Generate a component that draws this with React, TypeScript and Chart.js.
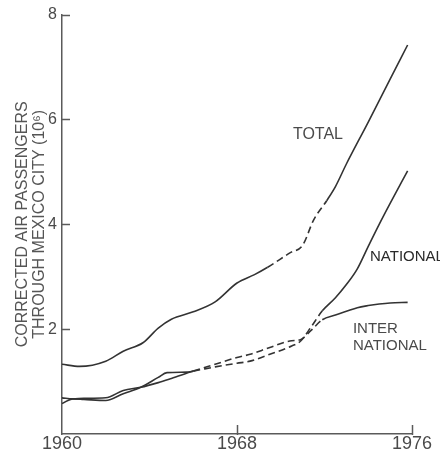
import { useEffect, useRef } from 'react';
import { Chart, registerables } from 'chart.js';

Chart.register(...registerables);

// Corrected air passengers through Mexico City, millions
const totalYears = [1960, 1960.8, 1962, 1962.8, 1963.7, 1964.4, 1965, 1966, 1967, 1968, 1968.8, 1969.4, 1970.4, 1971, 1971.5, 1972.1, 1972.5, 1973, 1974, 1975, 1975.8];
const totalValues = [1.33, 1.29, 1.39, 1.58, 1.74, 2.02, 2.19, 2.33, 2.52, 2.88, 3.04, 3.18, 3.45, 3.6, 4.08, 4.45, 4.72, 5.15, 5.95, 6.77, 7.42];

const nationalYears = [1960, 1960.5, 1961, 1962, 1962.8, 1963.6, 1964.4, 1964.8, 1965.7, 1966, 1967, 1968, 1968.6, 1969.5, 1970.5, 1970.9, 1971.4, 1971.9, 1972.5, 1973, 1973.5, 1974, 1974.5, 1975, 1975.8];
const nationalValues = [0.58, 0.67, 0.66, 0.64, 0.77, 0.89, 1.08, 1.17, 1.18, 1.2, 1.28, 1.35, 1.39, 1.52, 1.68, 1.77, 2.05, 2.35, 2.6, 2.85, 3.15, 3.58, 4.0, 4.4, 5.02];

const internationalYears = [1960, 1960.5, 1961, 1962, 1962.8, 1963.6, 1964.4, 1965, 1966, 1967, 1968, 1968.6, 1969.5, 1970.5, 1970.9, 1971.4, 1971.9, 1972.5, 1973, 1973.5, 1974, 1974.5, 1975, 1975.8];
const internationalValues = [0.69, 0.67, 0.68, 0.69, 0.83, 0.89, 0.98, 1.06, 1.2, 1.33, 1.46, 1.52, 1.65, 1.78, 1.8, 1.98, 2.18, 2.27, 2.34, 2.41, 2.45, 2.48, 2.5, 2.51];

// Year spans drawn dashed (estimated figures)
const totalEstimated = [1969.4, 1972.1];
const nationalEstimated = [1966, 1971.9];
const internationalEstimated = [1966, 1971.9];

const xTickValues = [1960, 1968, 1976];
const yTickValues = [2, 4, 6, 8];
const yTitle = ['CORRECTED AIR PASSENGERS', 'THROUGH MEXICO CITY (10⁶)'];

// Curve captions, anchored in data units (year, passengers)
const curveLabels = [
  { lines: ['TOTAL'], year: 1971.7, value: 5.72, align: 'center', color: '#4a4a4a', size: 16 },
  { lines: ['NATIONAL'], year: 1974.08, value: 3.38, align: 'left', color: '#2a2a2a', size: 15 },
  { lines: ['INTER', 'NATIONAL'], year: 1973.3, value: 2.01, align: 'left', color: '#4a4a4a', size: 15 },
];

const FONT = '"Liberation Sans", Arial, Helvetica, sans-serif';
const INK = '#333333';
const AXIS = '#5a5a5a';
const TEXT = '#4a4a4a';

function points(years: number[], values: number[]) {
  return years.map((x, i) => ({ x, y: values[i] }));
}

function dashedBetween(span: number[]) {
  return (ctx: any) => {
    const a = ctx.p0.parsed.x;
    const b = ctx.p1.parsed.x;
    return a >= span[0] - 1e-6 && b <= span[1] + 1e-6 ? [7, 4] : undefined;
  };
}

const axisDecor = {
  id: 'axisDecor',
  afterDraw(chart: any) {
    const { ctx, scales } = chart;
    const xs = scales.x;
    const ys = scales.y;
    const area = chart.chartArea;
    ctx.save();
    ctx.strokeStyle = AXIS;
    ctx.lineWidth = 1.5;
    // inward tick marks on the value axis
    for (const v of yTickValues) {
      const py = Math.round(ys.getPixelForValue(v)) + 0.5;
      ctx.beginPath();
      ctx.moveTo(area.left, py);
      ctx.lineTo(area.left + 8, py);
      ctx.stroke();
    }
    // inward tick marks on the year axis
    for (const v of xTickValues.slice(1)) {
      const px = Math.round(xs.getPixelForValue(v)) + 0.5;
      ctx.beginPath();
      ctx.moveTo(px, area.bottom - 9);
      ctx.lineTo(px, area.bottom + 1);
      ctx.stroke();
    }
    // curve captions
    ctx.textBaseline = 'middle';
    for (const lab of curveLabels) {
      ctx.font = `${lab.size}px ${FONT}`;
      ctx.fillStyle = lab.color;
      ctx.textAlign = lab.align;
      const px = xs.getPixelForValue(lab.year);
      let py = ys.getPixelForValue(lab.value);
      for (const line of lab.lines) {
        ctx.fillText(line, px, py);
        py += lab.size + 2;
      }
    }
    ctx.restore();
  },
};

export default function App() {
  const canvasRef = useRef<HTMLCanvasElement | null>(null);

  useEffect(() => {
    const canvas = canvasRef.current;
    if (!canvas) return;

    const lineStyle = {
      borderColor: INK,
      borderWidth: 1.6,
      pointRadius: 0,
      fill: false,
      cubicInterpolationMode: 'monotone' as const,
    };

    const chart = new Chart(canvas, {
      type: 'line',
      data: {
        datasets: [
          { label: 'TOTAL', data: points(totalYears, totalValues), ...lineStyle, segment: { borderDash: dashedBetween(totalEstimated) } },
          { label: 'NATIONAL', data: points(nationalYears, nationalValues), ...lineStyle, segment: { borderDash: dashedBetween(nationalEstimated) } },
          { label: 'INTERNATIONAL', data: points(internationalYears, internationalValues), ...lineStyle, segment: { borderDash: dashedBetween(internationalEstimated) } },
        ],
      },
      options: {
        animation: false,
        responsive: false,
        events: [],
        layout: { padding: { top: 9, right: 28, left: 0, bottom: 0 } },
        plugins: {
          legend: { display: false },
          tooltip: { enabled: false },
          title: { display: false },
        },
        scales: {
          x: {
            type: 'linear',
            min: 1960,
            max: 1976,
            afterBuildTicks: (s: any) => {
              s.ticks = xTickValues.map((value) => ({ value }));
            },
            afterFit: (s: any) => {
              s.height = 21;
            },
            grid: { display: false, drawTicks: false },
            border: { display: true, color: AXIS, width: 1.5 },
            ticks: {
              color: TEXT,
              font: { family: FONT, size: 18, lineHeight: 1 },
              padding: 1,
              maxRotation: 0,
              autoSkip: false,
              callback: (v: any) => String(v),
            },
          },
          y: {
            type: 'linear',
            min: 0,
            max: 8,
            afterBuildTicks: (s: any) => {
              s.ticks = yTickValues.map((value) => ({ value }));
            },
            afterFit: (s: any) => {
              s.width = 62;
            },
            grid: { display: false, drawTicks: false },
            border: { display: true, color: AXIS, width: 1.5 },
            ticks: {
              color: TEXT,
              font: { family: FONT, size: 16 },
              padding: 5,
              autoSkip: false,
              callback: (v: any) => String(v),
            },
            title: {
              display: true,
              text: yTitle,
              color: '#555555',
              font: { family: FONT, size: 16, lineHeight: 1.05 },
              padding: { top: 14.5, bottom: 0 },
            },
          },
        },
      },
      plugins: [axisDecor],
    });

    return () => chart.destroy();
  }, []);

  return (
    <div style={{ position: 'fixed', left: 0, top: 0, width: 440, height: 455, background: '#ffffff', overflow: 'hidden' }}>
      <canvas ref={canvasRef} width={440} height={455} style={{ display: 'block' }} />
    </div>
  );
}
